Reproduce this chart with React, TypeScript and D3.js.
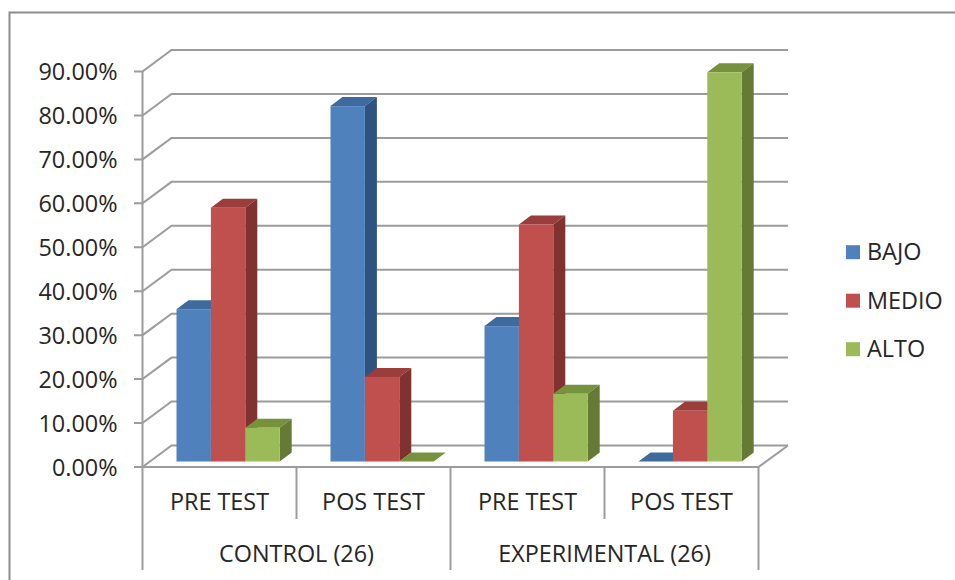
import React from "react";
import * as d3 from "d3";

const groups = ["CONTROL (26)", "EXPERIMENTAL (26)"];
const tests = ["PRE TEST", "POS TEST", "PRE TEST", "POS TEST"];
const seriesNames = ["BAJO", "MEDIO", "ALTO"];
const bajo = [34.62, 80.77, 30.77, 0];
const medio = [57.69, 19.23, 53.85, 11.54];
const alto = [7.69, 0, 15.38, 88.46];
const ticks = [0, 10, 20, 30, 40, 50, 60, 70, 80, 90];

const faces = [
  { front: "#4f81bd", top: "#3f6a9e", side: "#2f5380" },
  { front: "#c0504d", top: "#9a3d3b", side: "#7f3230" },
  { front: "#9bbb59", top: "#76923c", side: "#647a35" },
];

const AXIS = "#9c9c9c";
const FONT = "'Open Sans', 'Noto Sans', sans-serif";
const TEXT = "#262626";

const x0 = 142.5;
const x1 = 758.5;
const wallDx = 29;
const wallDy = -21.5;
const depthDx = 12;
const depthDy = -9;
const barBase = 461.5;

const y = d3.scaleLinear().domain([0, 90]).range([467, 71.5]);
const barTop = d3.scaleLinear().domain([0, 90]).range([barBase, barBase - 396]);
const xCat = d3.scaleBand<number>().domain([0, 1, 2, 3]).range([x0, x1]);
const xBar = d3.scaleBand<number>().domain([0, 1, 2]).range([0, 103.2]);
const barInset = 34;

const poly = (pts: [number, number][]) => d3.line()(pts) + "Z";

function Bar({ cat, s, value }: { cat: number; s: number; value: number }) {
  const left = xCat(cat)! + barInset + xBar(s)!;
  const right = left + xBar.bandwidth();
  const t = barTop(value);
  const c = faces[s];
  return (
    <g>
      <path
        d={poly([
          [left, t],
          [left + depthDx, t + depthDy],
          [right + depthDx, t + depthDy],
          [right, t],
        ])}
        fill={c.top}
      />
      {value > 0 && (
        <>
          <path
            d={poly([
              [right, t],
              [right + depthDx, t + depthDy],
              [right + depthDx, barBase + depthDy],
              [right, barBase],
            ])}
            fill={c.side}
          />
          <rect x={left} y={t} width={right - left} height={barBase - t} fill={c.front} />
        </>
      )}
    </g>
  );
}

export default function App() {
  const values = [bajo, medio, alto];
  const labelStyle = { fontFamily: FONT, fill: TEXT };
  return (
    <svg
      width={955}
      height={580}
      style={{ position: "absolute", left: 0, top: 0, background: "#fff" }}
    >
      {/* outer chart frame, open towards the right and bottom edges */}
      <path d="M9.5,580V12.5H955" fill="none" stroke="#8c8c8c" strokeWidth={2} />

      {/* back wall gridlines with their slanted returns to the value axis */}
      {ticks.map((t) => (
        <path
          key={t}
          d={d3.line()([
            [x0 - 8.5, y(t)],
            [x0, y(t)],
            [x0 + wallDx, y(t) + wallDy],
            [x1 + wallDx + 0.5, y(t) + wallDy],
          ])!}
          fill="none"
          stroke={AXIS}
          strokeWidth={2}
        />
      ))}

      {/* floor outline and value axis */}
      <path
        d={`M${x0},${y(90)}V${y(0)}H${x1}L${x1 + wallDx + 0.5},${y(0) + wallDy}`}
        fill="none"
        stroke={AXIS}
        strokeWidth={2}
      />

      {/* category separators: short between tests, long between groups */}
      {d3.range(5).map((i) => {
        const px = i < 4 ? xCat(i)! : x1;
        return (
          <line
            key={i}
            x1={px}
            x2={px}
            y1={y(0)}
            y2={i % 2 === 0 ? 570 : 519}
            stroke={AXIS}
            strokeWidth={2}
          />
        );
      })}

      {/* bars, painted left to right so nearer faces overlap correctly */}
      {tests.map((_, cat) =>
        seriesNames.map((_, s) => (
          <Bar key={`${cat}-${s}`} cat={cat} s={s} value={values[s][cat]} />
        ))
      )}

      {/* value axis labels */}
      {ticks.map((t) => (
        <text
          key={t}
          x={117.5}
          y={y(t) + 8.5}
          textAnchor="end"
          fontSize={23.4}
          style={labelStyle}
        >
          {t.toFixed(2)}%
        </text>
      ))}

      {/* category labels */}
      {tests.map((name, i) => (
        <text
          key={i}
          x={xCat(i)! + xCat.bandwidth() / 2}
          y={510}
          textAnchor="middle"
          fontSize={23.4}
          style={labelStyle}
        >
          {name}
        </text>
      ))}
      {groups.map((name, i) => (
        <text
          key={name}
          x={xCat(i * 2)! + xCat.bandwidth()}
          y={562}
          textAnchor="middle"
          fontSize={23.4}
          style={labelStyle}
        >
          {name}
        </text>
      ))}

      {/* legend */}
      {seriesNames.map((name, i) => {
        const cy = 252.2 + i * 48.5;
        return (
          <g key={name}>
            <rect x={846} y={cy - 7} width={14} height={14} fill={faces[i].front} />
            <text x={867} y={cy + 8} fontSize={23.4} style={labelStyle}>
              {name}
            </text>
          </g>
        );
      })}
    </svg>
  );
}
